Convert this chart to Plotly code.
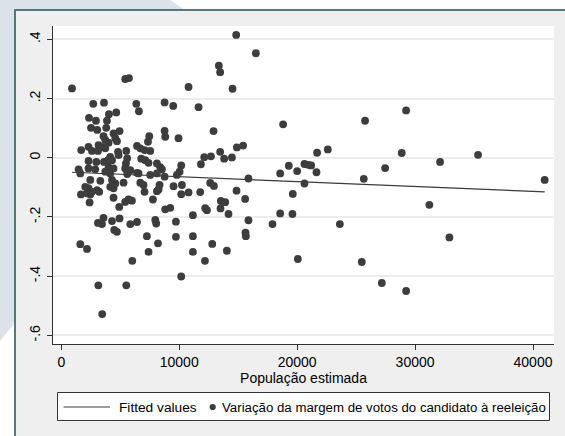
import plotly.graph_objects as go

# ---------------- data ----------------
populacao = [
    907, 14830, 16500, 13360, 13470, 14520, 10790, 5420, 5740, 2710, 3620, 6360, 6580, 8760, 9490, 11640,
    2350, 2940, 2520, 3050, 4040, 4660, 3870, 3810, 4940, 4430, 4580, 3580, 3730, 4720, 4010, 3160,
    3450, 2310, 1690, 2600, 3110, 4810, 3730, 5510, 5590, 5480, 6420, 6700, 7060, 7540, 7460, 7350,
    8760, 8810, 9940, 12910, 13470, 13810, 14470, 14890, 15420, 12120, 12690, 11840, 10170, 4150, 4860,
    4300, 3960, 2310, 2970, 3620, 6780, 7120, 7400, 8110, 8390, 8530, 10030, 1470, 2310, 2880, 4010,
    4430, 5420, 5850, 6420, 1610, 3730, 4150, 5590, 6550, 7540, 8110, 8760, 9800,
    2460, 3310, 4300, 4580, 5280, 6700, 6970, 8330, 8250, 9520, 10230, 2030, 2310, 2600, 3030, 1670,
    2180, 2460, 3220, 4150, 4430, 7060, 8110, 10170, 10790, 2400, 4430, 5420, 5700, 5990, 7770, 4915,
    8810, 9240,
    3580, 3110, 3450, 4300, 4490, 4720, 4940, 5850, 6420, 7970, 8050, 9720, 11160, 7260, 9720, 11160,
    8200, 7400, 11160, 1610, 2180, 6020, 10170, 12180, 12800, 14040, 15620, 15650, 15870, 17910, 18560,
    19600, 20060, 3140, 5510, 3470, 23620, 31210, 32910, 25480, 27180, 29240,
    12630, 12940, 14860, 15590, 11780, 15870, 13530, 13900, 13500, 14180, 12200, 12350,
    18810, 25760, 29240, 21690, 22600, 28870, 35340, 32120, 27460, 19290, 18560, 20000, 20620, 20960,
    21190, 21640, 20620, 19630, 25650, 40990,
]
variacao = [
    0.234, 0.415, 0.353, 0.311, 0.289, 0.233, 0.239, 0.266, 0.269, 0.182, 0.186, 0.182, 0.157, 0.187, 0.175, 0.171,
    0.135, 0.125, 0.101, 0.094, 0.147, 0.153, 0.125, 0.101, 0.090, 0.082, 0.066, 0.073, 0.060, 0.056, 0.051, 0.043,
    0.037, 0.037, 0.026, 0.023, 0.023, 0.020, 0.032, 0.023, -0.002, -0.019, 0.040, 0.032, 0.026, 0.023, 0.073, 0.054,
    0.091, 0.071, 0.066, 0.090, 0.020, -0.003, 0.001, 0.035, 0.041, 0.002, 0.005, -0.022, -0.026, 0.003, 0.009,
    -0.008, -0.008, -0.011, -0.014, -0.014, -0.003, -0.008, -0.017, -0.019, -0.032, -0.039, -0.047, -0.039, -0.036, -0.039, -0.032,
    -0.036, -0.036, -0.042, -0.051, -0.053, -0.047, -0.053, -0.055, -0.053, -0.058, -0.053, -0.064, -0.058,
    -0.075, -0.078, -0.075, -0.087, -0.084, -0.084, -0.092, -0.092, -0.107, -0.096, -0.092, -0.098, -0.103, -0.115, -0.109, -0.124,
    -0.120, -0.124, -0.115, -0.098, -0.103, -0.115, -0.113, -0.123, -0.117, -0.151, -0.135, -0.149, -0.141, -0.145, -0.141, -0.166,
    -0.174, -0.169,
    -0.203, -0.220, -0.224, -0.214, -0.244, -0.250, -0.205, -0.224, -0.217, -0.210, -0.222, -0.216, -0.194, -0.265, -0.267, -0.265,
    -0.289, -0.318, -0.318, -0.292, -0.308, -0.348, -0.401, -0.348, -0.291, -0.314, -0.253, -0.265, -0.211, -0.224, -0.188,
    -0.190, -0.342, -0.431, -0.431, -0.528, -0.224, -0.159, -0.269, -0.352, -0.423, -0.450,
    -0.085, -0.095, -0.111, -0.139, -0.116, -0.070, -0.146, -0.150, -0.171, -0.190, -0.170, -0.177,
    0.113, 0.125, 0.160, 0.017, 0.028, 0.016, 0.010, -0.014, -0.035, -0.027, -0.053, -0.045, -0.021, -0.024,
    -0.026, -0.049, -0.087, -0.122, -0.071, -0.075,
]
fit_x = [907, 40990]
fit_y = [-0.049, -0.115]

x_ticks = [0, 10000, 20000, 30000, 40000]
x_tick_labels = ["0", "10000", "20000", "30000", "40000"]
y_ticks = [0.4, 0.2, 0, -0.2, -0.4, -0.6]
y_tick_labels = [".4", ".2", "0", "-.2", "-.4", "-.6"]

x_title = "População estimada"
fit_name = "Fitted values"
scatter_name = "Variação da margem de votos do candidato à reeleição"

# ---------------- layout geometry ----------------
W, H = 565, 436
ML, MR, MT, MB = 53, 11, 26, 92
PW, PH = W - ML - MR, H - MT - MB


def px(x):
    return (x - ML) / PW


def py(y):
    return (H - MB - y) / PH


FONT = "Liberation Sans, Arial, sans-serif"
LINE_COL = "#3a3a3a"
DOT_COL = "#3d3d3d"

fig = go.Figure()
fig.add_trace(go.Scatter(
    x=fit_x, y=fit_y, mode="lines", name=fit_name,
    line=dict(color=LINE_COL, width=1.2), showlegend=False,
))
fig.add_trace(go.Scatter(
    x=populacao, y=variacao, mode="markers", name=scatter_name,
    marker=dict(color=DOT_COL, size=7.8, line=dict(width=0)), showlegend=False,
))

shapes = [
    # decorative blue-grey background polygon
    dict(type="path", xref="paper", yref="paper", layer="below",
         path=f"M {px(-5)},{py(-5)} L {px(170)},{py(-5)} L {px(170)},{py(0)} L {px(200)},{py(20)} "
              f"L {px(60)},{py(268)} L {px(-5)},{py(347)} Z",
         fillcolor="#dbe2ea", line=dict(width=0)),
    # framed panel
    dict(type="rect", xref="paper", yref="paper", layer="below",
         x0=px(15), y0=py(10), x1=px(620), y1=py(520),
         fillcolor="#eeefee", line=dict(color="#4f7b7d", width=2)),
    # plot region
    dict(type="rect", xref="paper", yref="paper", layer="below",
         x0=0, y0=0, x1=1, y1=1, fillcolor="white", line=dict(width=0)),
    # legend box
    dict(type="rect", xref="paper", yref="paper", layer="above",
         x0=px(57.5), y0=py(392.5), x1=px(549.5), y1=py(420.5),
         fillcolor="white", line=dict(color="#333333", width=1)),
    # legend line sample
    dict(type="line", xref="paper", yref="paper", layer="above",
         x0=px(63.5), y0=py(407), x1=px(110), y1=py(407),
         line=dict(color=LINE_COL, width=1.2)),
    # legend dot sample
    dict(type="circle", xref="paper", yref="paper", layer="above",
         x0=px(209.6), y0=py(403.9), x1=px(215.8), y1=py(410.1),
         fillcolor=DOT_COL, line=dict(width=0)),
]

annotations = [
    dict(text=fit_name, xref="paper", yref="paper", x=px(117.5), y=py(407.5),
         xanchor="left", yanchor="middle", showarrow=False, borderpad=0,
         font=dict(family=FONT, size=13.7, color="#000000")),
    dict(text=scatter_name, xref="paper", yref="paper", x=px(220.5), y=py(407.5),
         xanchor="left", yanchor="middle", showarrow=False, borderpad=0,
         font=dict(family=FONT, size=13.25, color="#000000")),
]

fig.update_layout(
    width=W, height=H,
    margin=dict(l=ML, r=MR, t=MT, b=MB, pad=0, autoexpand=False),
    paper_bgcolor="white",
    plot_bgcolor="rgba(0,0,0,0)",
    font=dict(family=FONT, size=14, color="#000000"),
    shapes=shapes,
    annotations=annotations,
    showlegend=False,
    xaxis=dict(
        range=[-703, 41780], tickmode="array", tickvals=x_ticks, ticktext=x_tick_labels,
        showgrid=False, zeroline=False, showline=True, linecolor="#333333", linewidth=1,
        ticks="outside", ticklen=5, tickcolor="#333333", tickwidth=1,
        ticklabelstandoff=0, automargin=False,
        title=dict(text=x_title, standoff=3, font=dict(family=FONT, size=14)),
        tickfont=dict(family=FONT, size=14),
    ),
    yaxis=dict(
        range=[-0.629, 0.445], tickmode="array", tickvals=y_ticks, ticktext=y_tick_labels,
        showgrid=True, gridcolor="#ececec", gridwidth=1.5, zeroline=False,
        showline=True, linecolor="#333333", linewidth=1,
        ticks="outside", ticklen=5, tickcolor="#333333", tickwidth=1,
        ticklabelstandoff=1, automargin=False,
        tickangle=-90, tickfont=dict(family=FONT, size=14),
    ),
)

fig.write_html(
    "out.html",
    config={"displayModeBar": False},
    post_script="document.body.style.margin='0';document.body.style.overflow='hidden';",
)
